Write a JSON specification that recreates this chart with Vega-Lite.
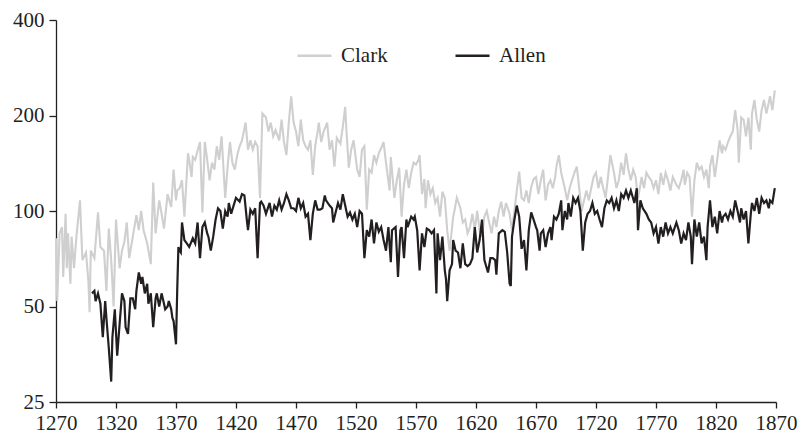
{
"$schema": "https://vega.github.io/schema/vega-lite/v6.json",
"width": 720, "height": 382,
"autosize": {"type": "none"},
"padding": {"left": 56, "top": 20, "right": 27, "bottom": 37},
"background": "white",
"config": {"view": {"stroke": null}, "font": "Liberation Serif"},
"datasets": {
"clark": [{"year":1270,"value":82},{"year":1271,"value":52},{"year":1273,"value":85},{"year":1275,"value":89},{"year":1276,"value":62},{"year":1278,"value":98},{"year":1279,"value":66},{"year":1280,"value":85},{"year":1282,"value":59},{"year":1283,"value":83},{"year":1285,"value":66},{"year":1287,"value":83},{"year":1290,"value":108},{"year":1292,"value":70},{"year":1295,"value":74},{"year":1297,"value":60},{"year":1298,"value":48},{"year":1299,"value":75},{"year":1302,"value":71},{"year":1305,"value":99},{"year":1307,"value":77},{"year":1310,"value":75},{"year":1312,"value":56},{"year":1314,"value":88},{"year":1316,"value":70},{"year":1318,"value":50},{"year":1320,"value":94},{"year":1323,"value":66},{"year":1325,"value":75},{"year":1327,"value":80},{"year":1329,"value":92},{"year":1331,"value":71},{"year":1334,"value":83},{"year":1337,"value":97},{"year":1339,"value":87},{"year":1341,"value":100},{"year":1343,"value":87},{"year":1346,"value":79},{"year":1349,"value":68},{"year":1351,"value":123},{"year":1353,"value":85},{"year":1356,"value":108},{"year":1358,"value":98},{"year":1360,"value":88},{"year":1363,"value":113},{"year":1366,"value":103},{"year":1368,"value":135},{"year":1370,"value":108},{"year":1371,"value":116},{"year":1373,"value":118},{"year":1375,"value":125},{"year":1377,"value":96},{"year":1380,"value":152},{"year":1381,"value":145},{"year":1383,"value":128},{"year":1384,"value":148},{"year":1386,"value":145},{"year":1388,"value":155},{"year":1390,"value":165},{"year":1392,"value":99},{"year":1394,"value":165},{"year":1396,"value":145},{"year":1398,"value":125},{"year":1400,"value":142},{"year":1402,"value":135},{"year":1404,"value":160},{"year":1406,"value":145},{"year":1408,"value":172},{"year":1410,"value":128},{"year":1411,"value":110},{"year":1413,"value":138},{"year":1415,"value":165},{"year":1417,"value":142},{"year":1419,"value":135},{"year":1421,"value":150},{"year":1423,"value":160},{"year":1425,"value":167},{"year":1428,"value":190},{"year":1430,"value":156},{"year":1432,"value":167},{"year":1434,"value":156},{"year":1436,"value":165},{"year":1438,"value":160},{"year":1440,"value":110},{"year":1442,"value":203},{"year":1445,"value":197},{"year":1447,"value":178},{"year":1449,"value":190},{"year":1451,"value":172},{"year":1453,"value":180},{"year":1456,"value":167},{"year":1458,"value":194},{"year":1460,"value":165},{"year":1462,"value":150},{"year":1464,"value":190},{"year":1466,"value":230},{"year":1468,"value":190},{"year":1470,"value":178},{"year":1472,"value":160},{"year":1474,"value":194},{"year":1476,"value":167},{"year":1478,"value":160},{"year":1480,"value":156},{"year":1482,"value":167},{"year":1484,"value":130},{"year":1486,"value":160},{"year":1488,"value":178},{"year":1489,"value":190},{"year":1491,"value":165},{"year":1493,"value":178},{"year":1496,"value":190},{"year":1498,"value":156},{"year":1500,"value":167},{"year":1502,"value":138},{"year":1504,"value":170},{"year":1507,"value":163},{"year":1509,"value":184},{"year":1511,"value":213},{"year":1512,"value":180},{"year":1514,"value":137},{"year":1516,"value":156},{"year":1518,"value":167},{"year":1521,"value":135},{"year":1523,"value":128},{"year":1525,"value":156},{"year":1527,"value":160},{"year":1529,"value":101},{"year":1531,"value":135},{"year":1533,"value":132},{"year":1535,"value":150},{"year":1537,"value":142},{"year":1539,"value":152},{"year":1541,"value":158},{"year":1543,"value":165},{"year":1545,"value":142},{"year":1548,"value":116},{"year":1549,"value":148},{"year":1552,"value":110},{"year":1554,"value":125},{"year":1556,"value":137},{"year":1558,"value":96},{"year":1560,"value":121},{"year":1562,"value":135},{"year":1564,"value":118},{"year":1566,"value":132},{"year":1568,"value":142},{"year":1570,"value":140},{"year":1572,"value":145},{"year":1573,"value":150},{"year":1575,"value":113},{"year":1577,"value":126},{"year":1578,"value":102},{"year":1580,"value":125},{"year":1582,"value":113},{"year":1584,"value":118},{"year":1586,"value":106},{"year":1588,"value":110},{"year":1590,"value":96},{"year":1592,"value":115},{"year":1594,"value":110},{"year":1596,"value":87},{"year":1598,"value":75},{"year":1601,"value":96},{"year":1602,"value":100},{"year":1604,"value":110},{"year":1607,"value":102},{"year":1609,"value":92},{"year":1611,"value":94},{"year":1613,"value":85},{"year":1615,"value":89},{"year":1617,"value":98},{"year":1619,"value":87},{"year":1621,"value":100},{"year":1623,"value":87},{"year":1625,"value":83},{"year":1627,"value":96},{"year":1629,"value":100},{"year":1631,"value":92},{"year":1633,"value":85},{"year":1635,"value":96},{"year":1637,"value":89},{"year":1639,"value":100},{"year":1641,"value":107},{"year":1643,"value":96},{"year":1645,"value":106},{"year":1648,"value":98},{"year":1650,"value":87},{"year":1652,"value":100},{"year":1654,"value":116},{"year":1656,"value":133},{"year":1658,"value":110},{"year":1660,"value":108},{"year":1662,"value":116},{"year":1664,"value":106},{"year":1666,"value":119},{"year":1668,"value":126},{"year":1670,"value":128},{"year":1672,"value":113},{"year":1674,"value":125},{"year":1676,"value":135},{"year":1678,"value":108},{"year":1680,"value":121},{"year":1682,"value":125},{"year":1684,"value":118},{"year":1686,"value":128},{"year":1687,"value":138},{"year":1689,"value":150},{"year":1691,"value":132},{"year":1694,"value":118},{"year":1696,"value":108},{"year":1698,"value":118},{"year":1700,"value":125},{"year":1702,"value":132},{"year":1704,"value":138},{"year":1706,"value":118},{"year":1708,"value":100},{"year":1710,"value":108},{"year":1712,"value":116},{"year":1714,"value":108},{"year":1716,"value":118},{"year":1718,"value":128},{"year":1720,"value":132},{"year":1722,"value":118},{"year":1724,"value":128},{"year":1726,"value":118},{"year":1728,"value":110},{"year":1730,"value":128},{"year":1732,"value":150},{"year":1735,"value":132},{"year":1737,"value":118},{"year":1739,"value":125},{"year":1741,"value":142},{"year":1743,"value":130},{"year":1745,"value":152},{"year":1747,"value":135},{"year":1749,"value":125},{"year":1751,"value":135},{"year":1753,"value":128},{"year":1755,"value":110},{"year":1757,"value":121},{"year":1758,"value":128},{"year":1760,"value":118},{"year":1762,"value":132},{"year":1764,"value":128},{"year":1766,"value":125},{"year":1768,"value":118},{"year":1770,"value":125},{"year":1772,"value":113},{"year":1774,"value":132},{"year":1776,"value":121},{"year":1778,"value":132},{"year":1780,"value":125},{"year":1782,"value":116},{"year":1784,"value":128},{"year":1787,"value":121},{"year":1789,"value":118},{"year":1791,"value":125},{"year":1793,"value":135},{"year":1794,"value":121},{"year":1796,"value":132},{"year":1798,"value":128},{"year":1800,"value":96},{"year":1802,"value":125},{"year":1804,"value":142},{"year":1806,"value":135},{"year":1808,"value":138},{"year":1810,"value":128},{"year":1812,"value":135},{"year":1814,"value":118},{"year":1815,"value":138},{"year":1817,"value":150},{"year":1819,"value":128},{"year":1821,"value":145},{"year":1823,"value":167},{"year":1825,"value":152},{"year":1826,"value":160},{"year":1828,"value":156},{"year":1830,"value":165},{"year":1832,"value":172},{"year":1834,"value":178},{"year":1836,"value":208},{"year":1838,"value":180},{"year":1839,"value":142},{"year":1841,"value":197},{"year":1843,"value":194},{"year":1845,"value":172},{"year":1847,"value":197},{"year":1849,"value":156},{"year":1850,"value":203},{"year":1852,"value":224},{"year":1854,"value":194},{"year":1856,"value":178},{"year":1858,"value":208},{"year":1860,"value":224},{"year":1862,"value":203},{"year":1864,"value":220},{"year":1865,"value":230},{"year":1867,"value":208},{"year":1869,"value":240}],
"allen": [{"year":1300,"value":55},{"year":1302,"value":56},{"year":1303,"value":52},{"year":1305,"value":55},{"year":1307,"value":51},{"year":1309,"value":40},{"year":1311,"value":52},{"year":1312,"value":46},{"year":1314,"value":37},{"year":1316,"value":29},{"year":1317,"value":40},{"year":1319,"value":49},{"year":1321,"value":35},{"year":1323,"value":44},{"year":1325,"value":55},{"year":1327,"value":52},{"year":1328,"value":43},{"year":1330,"value":41},{"year":1332,"value":53},{"year":1334,"value":53},{"year":1336,"value":49},{"year":1337,"value":56},{"year":1339,"value":64},{"year":1341,"value":59},{"year":1342,"value":62},{"year":1344,"value":55},{"year":1346,"value":59},{"year":1347,"value":51},{"year":1349,"value":55},{"year":1351,"value":43},{"year":1353,"value":53},{"year":1354,"value":55},{"year":1356,"value":50},{"year":1358,"value":55},{"year":1360,"value":51},{"year":1361,"value":49},{"year":1363,"value":50},{"year":1364,"value":52},{"year":1366,"value":49},{"year":1367,"value":46},{"year":1368,"value":45},{"year":1370,"value":38},{"year":1371,"value":56},{"year":1372,"value":77},{"year":1373,"value":75},{"year":1374,"value":74},{"year":1375,"value":92},{"year":1377,"value":81},{"year":1379,"value":79},{"year":1381,"value":77},{"year":1384,"value":82},{"year":1386,"value":79},{"year":1388,"value":92},{"year":1390,"value":71},{"year":1392,"value":89},{"year":1394,"value":92},{"year":1396,"value":85},{"year":1397,"value":83},{"year":1399,"value":75},{"year":1401,"value":83},{"year":1403,"value":94},{"year":1405,"value":102},{"year":1407,"value":100},{"year":1409,"value":88},{"year":1411,"value":100},{"year":1413,"value":96},{"year":1414,"value":106},{"year":1416,"value":98},{"year":1418,"value":104},{"year":1420,"value":110},{"year":1423,"value":107},{"year":1425,"value":113},{"year":1427,"value":112},{"year":1429,"value":94},{"year":1430,"value":87},{"year":1432,"value":101},{"year":1434,"value":98},{"year":1436,"value":102},{"year":1438,"value":71},{"year":1440,"value":106},{"year":1441,"value":107},{"year":1443,"value":104},{"year":1445,"value":98},{"year":1448,"value":106},{"year":1450,"value":96},{"year":1452,"value":104},{"year":1454,"value":101},{"year":1456,"value":108},{"year":1458,"value":101},{"year":1460,"value":106},{"year":1462,"value":113},{"year":1464,"value":108},{"year":1466,"value":102},{"year":1468,"value":102},{"year":1470,"value":100},{"year":1472,"value":110},{"year":1474,"value":102},{"year":1476,"value":106},{"year":1478,"value":96},{"year":1480,"value":98},{"year":1482,"value":81},{"year":1484,"value":98},{"year":1486,"value":108},{"year":1488,"value":101},{"year":1490,"value":101},{"year":1492,"value":102},{"year":1494,"value":112},{"year":1495,"value":108},{"year":1498,"value":104},{"year":1500,"value":102},{"year":1501,"value":92},{"year":1503,"value":99},{"year":1505,"value":106},{"year":1507,"value":101},{"year":1509,"value":113},{"year":1511,"value":104},{"year":1513,"value":96},{"year":1515,"value":99},{"year":1517,"value":94},{"year":1519,"value":98},{"year":1521,"value":89},{"year":1523,"value":100},{"year":1525,"value":98},{"year":1527,"value":71},{"year":1529,"value":87},{"year":1531,"value":83},{"year":1533,"value":94},{"year":1535,"value":79},{"year":1537,"value":92},{"year":1539,"value":86},{"year":1541,"value":89},{"year":1543,"value":81},{"year":1545,"value":75},{"year":1547,"value":89},{"year":1549,"value":69},{"year":1550,"value":87},{"year":1553,"value":89},{"year":1555,"value":62},{"year":1557,"value":87},{"year":1558,"value":89},{"year":1560,"value":71},{"year":1562,"value":94},{"year":1563,"value":89},{"year":1566,"value":96},{"year":1568,"value":94},{"year":1569,"value":96},{"year":1571,"value":87},{"year":1573,"value":65},{"year":1575,"value":85},{"year":1577,"value":77},{"year":1579,"value":88},{"year":1581,"value":87},{"year":1583,"value":85},{"year":1585,"value":87},{"year":1587,"value":55},{"year":1588,"value":85},{"year":1590,"value":70},{"year":1592,"value":83},{"year":1594,"value":65},{"year":1595,"value":61},{"year":1596,"value":52},{"year":1598,"value":65},{"year":1600,"value":68},{"year":1601,"value":81},{"year":1603,"value":75},{"year":1605,"value":74},{"year":1607,"value":66},{"year":1609,"value":79},{"year":1611,"value":68},{"year":1613,"value":67},{"year":1615,"value":68},{"year":1617,"value":71},{"year":1619,"value":89},{"year":1621,"value":74},{"year":1623,"value":81},{"year":1625,"value":94},{"year":1627,"value":70},{"year":1630,"value":64},{"year":1632,"value":71},{"year":1634,"value":71},{"year":1636,"value":70},{"year":1637,"value":63},{"year":1639,"value":85},{"year":1642,"value":87},{"year":1644,"value":86},{"year":1646,"value":74},{"year":1648,"value":59},{"year":1649,"value":58},{"year":1650,"value":83},{"year":1652,"value":94},{"year":1654,"value":104},{"year":1656,"value":96},{"year":1658,"value":76},{"year":1660,"value":81},{"year":1662,"value":65},{"year":1664,"value":87},{"year":1666,"value":99},{"year":1668,"value":94},{"year":1670,"value":89},{"year":1671,"value":87},{"year":1673,"value":75},{"year":1674,"value":85},{"year":1676,"value":87},{"year":1678,"value":77},{"year":1680,"value":85},{"year":1682,"value":89},{"year":1683,"value":81},{"year":1685,"value":96},{"year":1687,"value":94},{"year":1689,"value":98},{"year":1691,"value":108},{"year":1692,"value":87},{"year":1694,"value":100},{"year":1696,"value":94},{"year":1697,"value":106},{"year":1699,"value":96},{"year":1701,"value":110},{"year":1703,"value":106},{"year":1705,"value":110},{"year":1707,"value":100},{"year":1709,"value":75},{"year":1711,"value":92},{"year":1713,"value":98},{"year":1715,"value":100},{"year":1717,"value":106},{"year":1719,"value":98},{"year":1721,"value":100},{"year":1723,"value":94},{"year":1725,"value":89},{"year":1727,"value":102},{"year":1729,"value":108},{"year":1731,"value":106},{"year":1733,"value":110},{"year":1735,"value":102},{"year":1737,"value":108},{"year":1739,"value":100},{"year":1741,"value":113},{"year":1743,"value":110},{"year":1745,"value":116},{"year":1747,"value":110},{"year":1749,"value":116},{"year":1752,"value":106},{"year":1754,"value":118},{"year":1755,"value":87},{"year":1757,"value":108},{"year":1759,"value":102},{"year":1762,"value":98},{"year":1764,"value":94},{"year":1766,"value":92},{"year":1768,"value":85},{"year":1770,"value":89},{"year":1772,"value":79},{"year":1774,"value":89},{"year":1776,"value":83},{"year":1778,"value":92},{"year":1780,"value":85},{"year":1782,"value":89},{"year":1784,"value":85},{"year":1787,"value":92},{"year":1789,"value":87},{"year":1791,"value":79},{"year":1793,"value":85},{"year":1795,"value":81},{"year":1797,"value":92},{"year":1799,"value":83},{"year":1800,"value":68},{"year":1802,"value":94},{"year":1804,"value":83},{"year":1806,"value":92},{"year":1808,"value":79},{"year":1810,"value":83},{"year":1812,"value":70},{"year":1813,"value":89},{"year":1815,"value":108},{"year":1817,"value":89},{"year":1819,"value":96},{"year":1821,"value":85},{"year":1823,"value":100},{"year":1825,"value":92},{"year":1826,"value":96},{"year":1828,"value":98},{"year":1830,"value":94},{"year":1832,"value":100},{"year":1834,"value":96},{"year":1836,"value":108},{"year":1838,"value":100},{"year":1840,"value":92},{"year":1841,"value":102},{"year":1843,"value":94},{"year":1845,"value":100},{"year":1847,"value":79},{"year":1849,"value":98},{"year":1850,"value":106},{"year":1852,"value":100},{"year":1854,"value":110},{"year":1856,"value":98},{"year":1858,"value":110},{"year":1860,"value":106},{"year":1862,"value":108},{"year":1864,"value":102},{"year":1865,"value":108},{"year":1867,"value":106},{"year":1869,"value":118}]
},
"layer": [
{
"data": {"name": "clark"},
"mark": {"type": "line", "strokeWidth": 2.1},
"encoding": {
"x": {"field": "year", "type": "quantitative", "scale": {"domain": [1270, 1870], "nice": false, "zero": false},
"axis": {"title": null, "values": [1270,1320,1370,1420,1470,1520,1570,1620,1670,1720,1770,1820,1870], "format": "d", "labelFont": "Liberation Serif", "labelFontSize": 21, "labelColor": "#231f20", "domainColor": "#231f20", "domainWidth": 1.3, "tickColor": "#231f20", "tickWidth": 1.3, "tickSize": 6, "labelPadding": 4, "grid": false, "labelFlush": false, "labelOverlap": false}},
"y": {"field": "value", "type": "quantitative", "scale": {"type": "log", "domain": [25, 400], "nice": false},
"axis": {"title": null, "values": [25,50,100,200,400], "format": "d", "labelFont": "Liberation Serif", "labelFontSize": 21, "labelColor": "#231f20", "domainColor": "#231f20", "domainWidth": 1.3, "tickColor": "#231f20", "tickWidth": 1.3, "tickSize": 7, "labelPadding": 5, "grid": false, "labelFlush": false, "labelOverlap": false}},
"color": {"datum": "Clark", "type": "nominal", "scale": {"domain": ["Clark", "Allen"], "range": ["#cfcfcf", "#231f20"]},
"legend": {"title": null, "orient": "none", "legendX": 240, "legendY": 17, "direction": "horizontal", "symbolType": "stroke", "symbolSize": 1156, "symbolStrokeWidth": 2.5, "labelFont": "Liberation Serif", "labelFontSize": 21, "labelColor": "#231f20", "labelOffset": 8, "columnPadding": 62}}
}
},
{
"data": {"name": "allen"},
"mark": {"type": "line", "strokeWidth": 2.2},
"encoding": {
"x": {"field": "year", "type": "quantitative"},
"y": {"field": "value", "type": "quantitative"},
"color": {"datum": "Allen", "type": "nominal"}
}
}
]
}
